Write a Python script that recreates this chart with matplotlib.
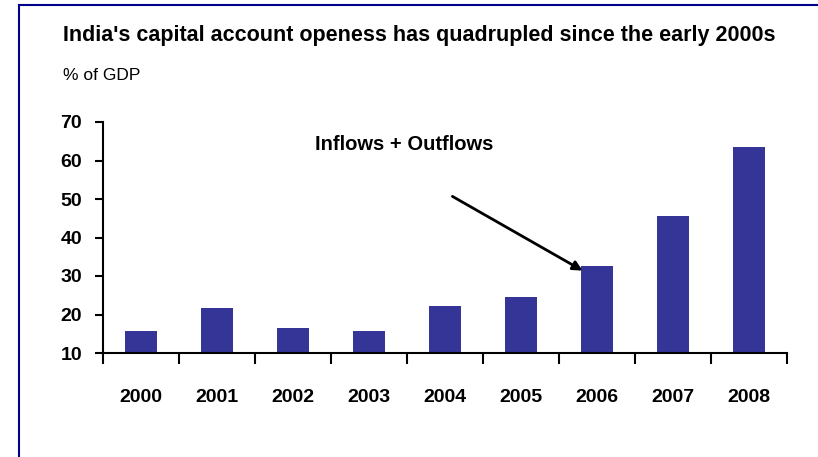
import matplotlib.pyplot as plt
from matplotlib.lines import Line2D

years = ['2000', '2001', '2002', '2003', '2004', '2005', '2006', '2007', '2008']
openness = [15.7, 21.7, 16.5, 15.7, 22.2, 24.5, 32.6, 45.6, 63.5]

plt.rcParams['font.family'] = ['Liberation Sans Narrow', 'Liberation Sans', 'DejaVu Sans']

W, H = 818, 457
fig = plt.figure(figsize=(W / 100, H / 100), dpi=100)
ax = fig.add_axes([103 / W, 1 - 353 / H, 684 / W, 231 / H])

x = range(len(years))
ax.bar(x, openness, width=0.42, bottom=0, color='#353598', zorder=2)

ax.set_ylim(10, 70)
ax.set_xlim(-0.5, len(years) - 0.5)
ax.set_yticks(range(10, 71, 10))
ax.set_xticks([i - 0.5 for i in range(len(years) + 1)], minor=False)
ax.set_xticklabels([])
ax.set_xticks(list(x), minor=True)
ax.set_xticklabels(years, minor=True)

for s in ['top', 'right']:
    ax.spines[s].set_visible(False)
for s in ['left', 'bottom']:
    ax.spines[s].set_linewidth(1.5)

ax.tick_params(axis='y', direction='out', length=6, width=1.5, labelsize=14, pad=9)
ax.tick_params(axis='x', which='major', direction='out', length=8, width=1.5)
ax.tick_params(axis='x', which='minor', length=0, labelsize=14, pad=26)
for lab in ax.get_yticklabels() + ax.get_xticklabels(minor=True):
    lab.set_fontweight('bold')

ax.annotate('', xy=(585 / W, 1 - 272 / H), xytext=(450 / W, 1 - 195 / H),
            xycoords='figure fraction', textcoords='figure fraction',
            arrowprops=dict(arrowstyle='-|>', color='black', lw=2, mutation_scale=14))
fig.text(404 / W, 1 - 145 / H, 'Inflows + Outflows', ha='center', va='center',
         fontsize=14.5, fontweight='bold')

fig.text(63 / W, 1 - 35 / H, "India's capital account openess has quadrupled since the early 2000s",
         fontsize=15.5, fontweight='bold', va='center')
fig.text(63 / W, 1 - 75 / H, '% of GDP', fontsize=12.5, va='center')

fig.add_artist(Line2D([19 / W, 19 / W], [0, 1 - 4.5 / H], color='#00008B', lw=1.5,
                      transform=fig.transFigure))
fig.add_artist(Line2D([19 / W, 1], [1 - 4.5 / H, 1 - 4.5 / H], color='#00008B', lw=1.5,
                      transform=fig.transFigure))

fig.savefig('out.png', dpi=100)
